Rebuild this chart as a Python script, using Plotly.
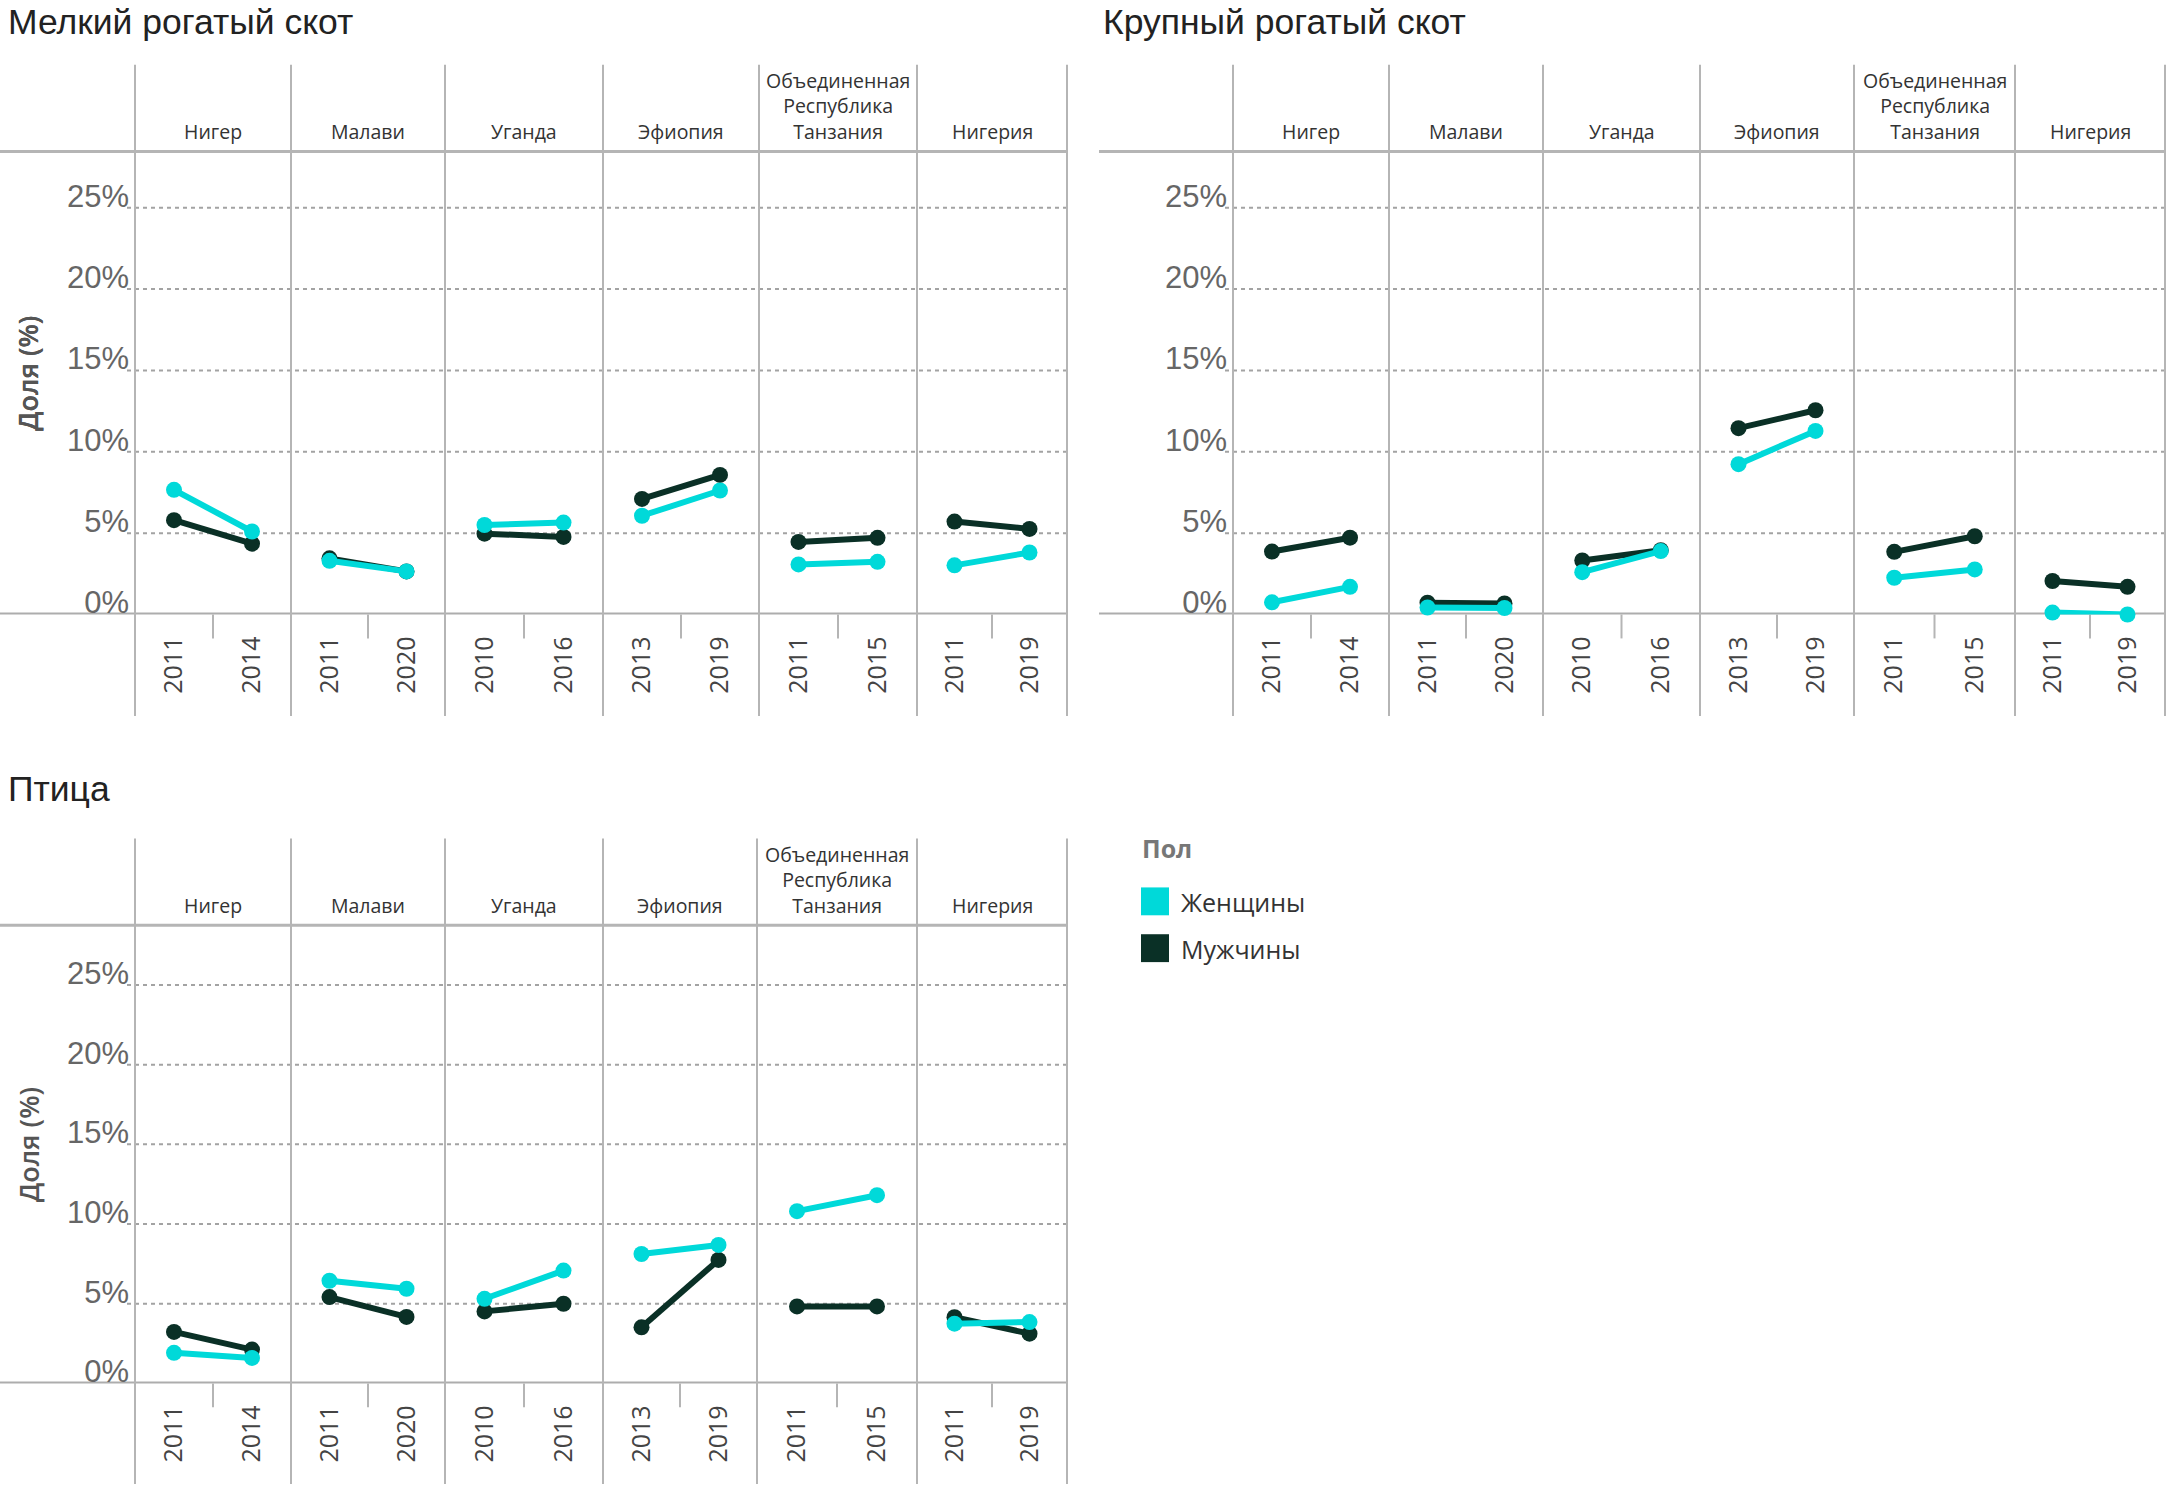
import plotly.graph_objects as go

W, H = 2167, 1490

# ---------------- data ----------------
panel_titles = ["Мелкий рогатый скот", "Крупный рогатый скот", "Птица"]
countries = ["Нигер", "Малави", "Уганда", "Эфиопия",
             "Объединенная<br>Республика<br>Танзания", "Нигерия"]
years = [["2011", "2014"], ["2011", "2020"], ["2010", "2016"],
         ["2013", "2019"], ["2011", "2015"], ["2011", "2019"]]
y_ticks = [0, 5, 10, 15, 20, 25]
y_ticktext = ["0%", "5%", "10%", "15%", "20%", "25%"]
series_names = ["Женщины", "Мужчины"]

small_women = [[7.66, 5.10], [3.30, 2.65], [5.50, 5.65], [6.07, 7.62], [3.08, 3.24], [3.02, 3.81]]
small_men = [[5.80, 4.35], [3.45, 2.65], [4.97, 4.77], [7.10, 8.58], [4.46, 4.71], [5.71, 5.26]]
cattle_women = [[0.75, 1.70], [0.43, 0.40], [2.60, 3.90], [9.24, 11.28], [2.26, 2.77], [0.12, 0.00]]
cattle_men = [[3.87, 4.72], [0.73, 0.68], [3.32, 3.95], [11.45, 12.55], [3.85, 4.81], [2.06, 1.70]]
poultry_women = [[1.92, 1.60], [6.44, 5.94], [5.31, 7.08], [8.12, 8.69], [10.81, 11.81], [3.75, 3.85]]
poultry_men = [[3.23, 2.12], [5.42, 4.17], [4.52, 5.00], [3.52, 7.75], [4.83, 4.83], [4.15, 3.12]]

women = [small_women, cattle_women, poultry_women]
men = [small_men, cattle_men, poultry_men]

# ---------------- styles / layout geometry (pixels) ----------------
C_WOMEN = "#00D9D9"
C_MEN = "#0A3026"
C_RULE = "#b5b5b5"
C_GRID = "#a3a3a3"
NARROW = "Liberation Sans, Arial, sans-serif"
SANS = "Open Sans, Noto Sans, sans-serif"

geo = [
    dict(left=0, title_x=6, title_top=0, edges=[135, 291, 445, 603, 759, 917, 1067],
         top=65, head=152, zero=617, bottom=719, per=16.34),
    dict(left=1099, title_x=1101, title_top=0, edges=[1233, 1389, 1543, 1700, 1854, 2015, 2165],
         top=65, head=152, zero=617, bottom=719, per=16.34),
    dict(left=0, title_x=6, title_top=770, edges=[135, 291, 445, 603, 757, 917, 1067],
         top=842, head=929, zero=1389, bottom=1490, per=16.0),
]


def px(x):
    return x / W


def py(y):
    return 1 - y / H


fig = go.Figure()
layout = {}
shapes = []
annotations = []

for p, g in enumerate(geo):
    yname = "yaxis" if p == 0 else f"yaxis{p + 1}"
    yref = "y" if p == 0 else f"y{p + 1}"
    ymax = (g["zero"] - g["head"]) / g["per"]
    layout[yname] = dict(
        domain=[py(g["zero"]), py(g["head"])], range=[0, ymax],
        anchor="free", position=px(g["edges"][0] - 6),
        tickvals=y_ticks, ticktext=y_ticktext, ticks="",
        tickfont=dict(family=NARROW, size=31, color="#666"),
        ticklabelshift=-12, showgrid=False, zeroline=False, showline=False,
        fixedrange=True,
    )
    # panel title
    annotations.append(dict(text=panel_titles[p], x=px(g["title_x"]), y=py(g["title_top"]),
                            xref="paper", yref="paper", xanchor="left", yanchor="top",
                            showarrow=False,
                            font=dict(family=NARROW, size=35.5, color="#222")))
    # y axis title
    annotations.append(dict(text="Доля (%)", x=px(28), y=py((g["head"] + g["zero"]) / 2 - 9),
                            xref="paper", yref="paper", textangle=-90, showarrow=False,
                            xanchor="center", yanchor="middle",
                            font=dict(family=SANS, size=27, color="#555", weight=600)))
    right = g["edges"][-1]
    # dotted gridlines
    for v in y_ticks[1:]:
        shapes.append(dict(type="line", xref="paper", yref=yref, x0=px(g["edges"][0] - 8), x1=px(right),
                           y0=v, y1=v, layer="below",
                           line=dict(color=C_GRID, width=2, dash="4px,4px")))
    # header and zero rules
    shapes.append(dict(type="line", xref="paper", yref="paper", x0=px(g["left"]), x1=px(right),
                       y0=py(g["head"]), y1=py(g["head"]), layer="below",
                       line=dict(color=C_RULE, width=3)))
    shapes.append(dict(type="line", xref="paper", yref=yref, x0=px(g["left"]), x1=px(right),
                       y0=0, y1=0, layer="below", line=dict(color="#adadad", width=4)))
    # vertical facet separators
    for e in g["edges"]:
        shapes.append(dict(type="line", xref="paper", yref="paper", x0=px(e), x1=px(e),
                           y0=py(g["top"]), y1=py(g["bottom"]), layer="below",
                           line=dict(color=C_RULE, width=2)))

    for f in range(6):
        n = p * 6 + f + 1
        xname = "xaxis" if n == 1 else f"xaxis{n}"
        xref = "x" if n == 1 else f"x{n}"
        layout[xname] = dict(
            domain=[px(g["edges"][f]), px(g["edges"][f + 1])], anchor=yref,
            type="category", categoryorder="array", categoryarray=years[f],
            range=[-0.5, 1.5], tickangle=-90, ticks="",
            tickfont=dict(family=SANS, size=25, color="#444"),
            ticklabelstandoff=16,
            showgrid=False, zeroline=False, showline=False, fixedrange=True,
        )
        # small tick between the two years
        shapes.append(dict(type="line", xref=xref, yref="paper", x0=0.5, x1=0.5,
                           y0=py(g["zero"]), y1=py(g["zero"] + 24), layer="below",
                           line=dict(color=C_RULE, width=2)))
        # country header
        annotations.append(dict(text=countries[f], xref=f"{xref} domain", x=0.5,
                                yref="paper", y=py(g["head"] - 4),
                                xanchor="center", yanchor="bottom", showarrow=False,
                                font=dict(family=SANS, size=19.5, color="#333")))
        for vals, col, name in ((men[p][f], C_MEN, series_names[1]),
                                (women[p][f], C_WOMEN, series_names[0])):
            fig.add_trace(go.Scatter(
                x=years[f], y=vals, xaxis=xref, yaxis=yref, mode="lines+markers",
                name=name, showlegend=False, cliponaxis=False,
                line=dict(color=col, width=6), marker=dict(color=col, size=16),
                hovertemplate=f"{name}<br>%{{x}}: %{{y:.1f}}%<extra></extra>",
            ))

# ---------------- legend ----------------
annotations.append(dict(text="<b>Пол</b>", x=px(1140), y=py(851), xref="paper", yref="paper",
                        xanchor="left", yanchor="middle", showarrow=False,
                        font=dict(family=SANS, size=25, color="#777")))
for i, (name, col) in enumerate(zip(series_names, [C_WOMEN, C_MEN])):
    y0 = 891 + 47 * i
    shapes.append(dict(type="rect", xref="paper", yref="paper", x0=px(1141), x1=px(1169),
                       y0=py(y0), y1=py(y0 + 28), fillcolor=col, line=dict(width=0)))
    annotations.append(dict(text=name, x=px(1179), y=py(y0 + 15), xref="paper", yref="paper",
                            xanchor="left", yanchor="middle", showarrow=False,
                            font=dict(family=SANS, size=25, color="#333")))

fig.update_layout(
    width=W, height=H, margin=dict(l=0, r=0, t=0, b=0),
    paper_bgcolor="white", plot_bgcolor="rgba(0,0,0,0)",
    shapes=shapes, annotations=annotations, showlegend=False,
    **layout,
)

fig.write_html("out.html", config={"displayModeBar": False},
               post_script="document.body.style.margin='0';document.body.style.overflow='hidden';")
